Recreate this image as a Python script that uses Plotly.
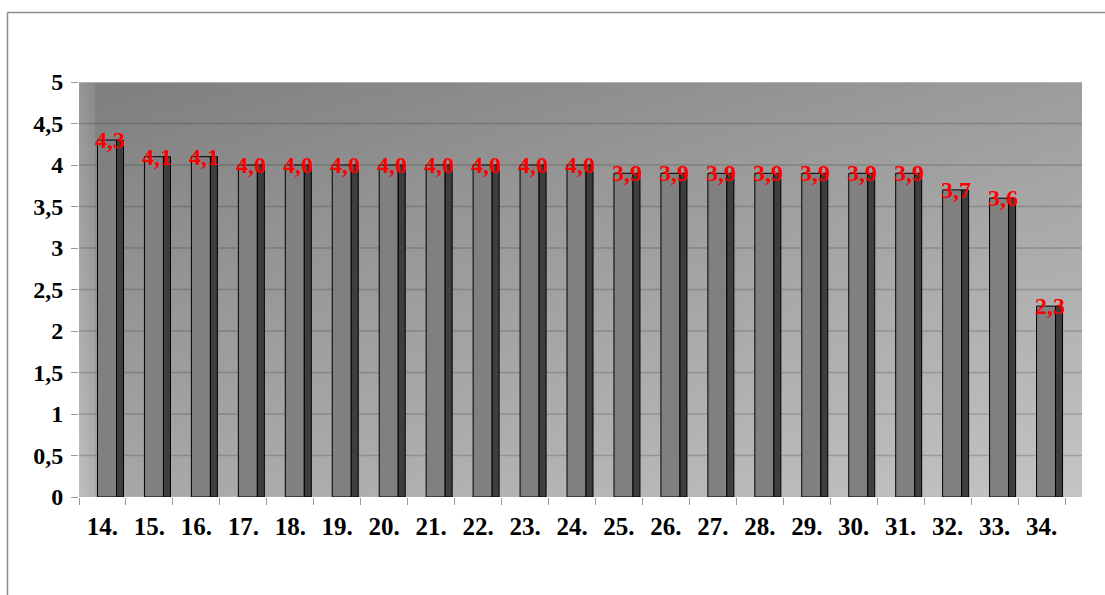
import base64
import struct
import zlib

import numpy as np
import plotly.graph_objects as go

# ---- data -------------------------------------------------------------
categories = ["14.", "15.", "16.", "17.", "18.", "19.", "20.", "21.", "22.", "23.", "24.",
              "25.", "26.", "27.", "28.", "29.", "30.", "31.", "32.", "33.", "34."]
values = [4.3, 4.1, 4.1, 4.0, 4.0, 4.0, 4.0, 4.0, 4.0, 4.0, 4.0,
          3.9, 3.9, 3.9, 3.9, 3.9, 3.9, 3.9, 3.7, 3.6, 2.3]
y_tick_values = [0, 0.5, 1, 1.5, 2, 2.5, 3, 3.5, 4, 4.5, 5]
y_tick_labels = ["0", "0,5", "1", "1,5", "2", "2,5", "3", "3,5", "4", "4,5", "5"]

# ---- geometry ---------------------------------------------------------
W, H = 1105, 595
M_L, M_R, M_T, M_B = 79, 23, 82, 98
PLOT_W = W - M_L - M_R          # back wall incl. side wall
PLOT_H = H - M_T - M_B
FLOOR_W = 986                   # front edge of the floor (category axis)
SIDE_W = 16                     # visible left side wall

SERIF = "Liberation Serif, Times New Roman, serif"


def gray_png(arr):
    """Encode a 2-D uint8 array as a grayscale PNG data URI."""
    h, w = arr.shape
    raw = b"".join(b"\x00" + arr[r].tobytes() for r in range(h))

    def chunk(tag, data):
        c = struct.pack(">I", len(data)) + tag + data
        return c + struct.pack(">I", zlib.crc32(tag + data) & 0xFFFFFFFF)

    ihdr = struct.pack(">IIBBBBB", w, h, 8, 0, 0, 0, 0)
    png = (b"\x89PNG\r\n\x1a\n" + chunk(b"IHDR", ihdr)
           + chunk(b"IDAT", zlib.compress(raw, 9)) + chunk(b"IEND", b""))
    return "data:image/png;base64," + base64.b64encode(png).decode()


# diagonal gray gradient for the back wall, lighter strip for the side wall
xx = np.arange(PLOT_W)[None, :].astype(float)
yy = np.arange(PLOT_H)[:, None].astype(float)
u = np.clip((xx - SIDE_W) / (PLOT_W - SIDE_W), 0, 1)
v = yy / (PLOT_H - 1)
wall = 127 + 30 * u + 40 * v
side = np.where(xx < SIDE_W, 24 - 14 * (xx / SIDE_W), 0)
bg = np.clip(wall + side, 0, 255).astype(np.uint8)
bg_uri = gray_png(bg)

fig = go.Figure()

# front face of each bar
fig.add_trace(go.Bar(
    x=categories, y=values,
    offset=-0.106, width=0.405,
    marker=dict(color="#808080", line=dict(color="#000000", width=1)),
    hoverinfo="skip", showlegend=False,
))
# shaded side face
fig.add_trace(go.Bar(
    x=categories, y=values,
    offset=0.2987, width=0.149,
    marker=dict(color="#3e3e3e", line=dict(color="#000000", width=1)),
    hoverinfo="skip", showlegend=False,
))

# value labels (x given as category index)
for i, val in enumerate(values):
    fig.add_annotation(
        x=i, y=val, xref="x", yref="y",
        text="<b>" + f"{val:.1f}".replace(".", ",") + "</b>",
        showarrow=False, xshift=8, yanchor="middle", xanchor="center",
        font=dict(family=SERIF, size=24, color="#ff0000"),
    )

# horizontal gridlines across the walls
shapes = []
for t in y_tick_values:
    if t == 0:
        continue
    top = t == y_tick_values[-1]
    shapes.append(dict(
        type="line", xref="paper", yref="y", x0=0, x1=1, y0=t, y1=t,
        line=dict(color="#bdbdbd" if top else "rgba(0,0,0,0.17)", width=1.5 if top else 1.3),
        layer="below",
    ))
# floor edge
shapes.append(dict(type="line", xref="paper", yref="y", x0=0, x1=FLOOR_W / PLOT_W, y0=0, y1=0,
                   line=dict(color="#b4b4b4", width=1.5), layer="below"))
# outer chart border (left and top)
bx = (7.5 - M_L) / PLOT_W
by_top = 1 + (M_T - 12.5) / PLOT_H
by_bot = -(M_B + 5) / PLOT_H
bx_right = (W + 5 - M_L) / PLOT_W
shapes.append(dict(type="line", xref="paper", yref="paper", x0=bx, x1=bx, y0=by_bot, y1=by_top,
                   line=dict(color="#8c8c8c", width=1.5)))
shapes.append(dict(type="line", xref="paper", yref="paper", x0=bx, x1=bx_right, y0=by_top, y1=by_top,
                   line=dict(color="#8c8c8c", width=1.5)))

fig.update_layout(
    width=W, height=H,
    margin=dict(l=M_L, r=M_R, t=M_T, b=M_B, pad=0),
    paper_bgcolor="#ffffff",
    plot_bgcolor="rgba(0,0,0,0)",
    barmode="overlay",
    showlegend=False,
    shapes=shapes,
    images=[dict(source=bg_uri, xref="paper", yref="paper", x=0, y=1,
                 sizex=1, sizey=1, xanchor="left", yanchor="top",
                 sizing="stretch", layer="below")],
    xaxis=dict(
        type="category", categoryorder="array", categoryarray=categories,
        range=[-0.5, len(categories) - 0.5],
        domain=[0, FLOOR_W / PLOT_W],
        tickson="boundaries", ticks="outside", ticklen=7, tickcolor="#9a9a9a", tickwidth=1,
        showgrid=False, zeroline=False, showline=False,
        tickfont=dict(family=SERIF, size=25, color="#000000", weight="bold"),
        ticklabelstandoff=12,
    ),
    yaxis=dict(
        range=[0, 5], tickvals=y_tick_values, ticktext=y_tick_labels,
        ticks="outside", ticklen=7, tickcolor="#9a9a9a", tickwidth=1,
        showgrid=False, zeroline=False, showline=False,
        tickfont=dict(family=SERIF, size=24, color="#000000", weight="bold"),
        ticklabelstandoff=3,
    ),
)

fig.write_html("out.html")
